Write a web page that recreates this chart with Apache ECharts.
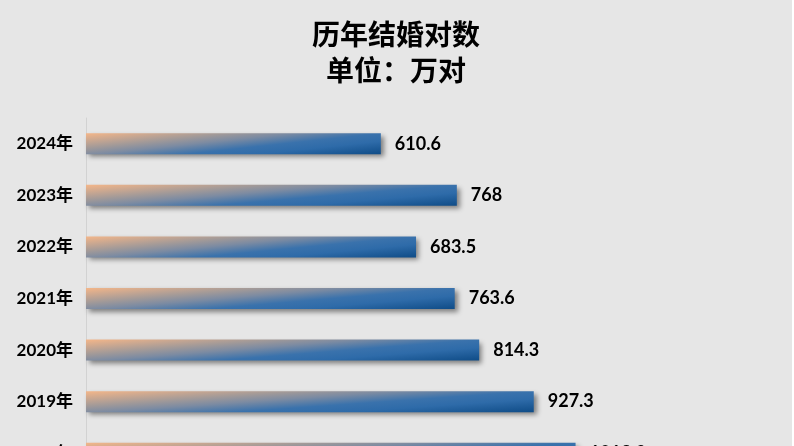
<!DOCTYPE html>
<html>
<head>
<meta charset="utf-8">
<script src="https://cdn.jsdelivr.net/npm/echarts@6/dist/echarts.min.js"></script>
<style>
html,body{margin:0;padding:0;background:#ffffff;overflow:hidden;}
#chart{width:792px;height:490px;background:#E6E6E6;}
</style>
</head>
<body>
<div id="chart"></div>
<script>
const categories = ['2024年','2023年','2022年','2021年','2020年','2019年','2018年'];
const marriages = [610.6, 768, 683.5, 763.6, 814.3, 927.3, 1013.9];
const titleText = '历年结婚对数\n单位：万对';

const axisMax = 1400;
const gridWidth = 676;
const barH = 21;

function barGradient(v) {
  const w = v / axisMax * gridWidth;
  const a = 0.6, b = 0.4;
  const g2 = (a / w) * (a / w) + (b / barH) * (b / barH);
  const x2 = a / (w * w * g2);
  const y2 = b / (barH * barH * g2);
  return new echarts.graphic.LinearGradient(0, 0, x2, y2, [
    { offset: 0, color: '#F4B689' },
    { offset: 0.28, color: '#A39A98' },
    { offset: 0.42, color: '#7C8BA2' },
    { offset: 0.6, color: '#3A72AC' },
    { offset: 0.75, color: '#2E6BA9' },
    { offset: 1, color: '#0F4C87' }
  ]);
}

const chart = echarts.init(document.getElementById('chart'));
chart.setOption({
  backgroundColor: '#E6E6E6',
  animation: false,
  title: {
    text: titleText,
    left: 'center',
    top: 11,
    textStyle: {
      fontFamily: '"Noto Sans CJK SC", sans-serif',
      fontWeight: 'bold',
      fontSize: 28,
      lineHeight: 36,
      color: '#000000'
    }
  },
  grid: { left: 86, top: 118, width: gridWidth, height: 361, containLabel: false, outerBoundsMode: 'none' },
  xAxis: { type: 'value', min: 0, max: axisMax, show: false },
  yAxis: {
    type: 'category',
    data: categories,
    inverse: true,
    axisLine: { show: true, lineStyle: { color: '#D2D2D2', width: 1 } },
    axisTick: { show: false },
    splitLine: { show: false },
    axisLabel: {
      margin: 13,
      color: '#000000',
      fontFamily: 'Lato, "Noto Sans CJK SC", sans-serif',
      fontWeight: 'bold',
      fontSize: 17
    }
  },
  series: [{
    type: 'bar',
    barWidth: barH,
    data: marriages.map(v => ({
      value: v,
      itemStyle: { color: barGradient(v) }
    })),
    itemStyle: {
      shadowColor: 'rgba(0,0,0,0.45)',
      shadowBlur: 5,
      shadowOffsetX: 3,
      shadowOffsetY: 3
    },
    label: {
      show: true,
      position: 'right',
      distance: 14,
      color: '#000000',
      fontFamily: 'Lato, sans-serif',
      fontWeight: 'bold',
      fontSize: 18
    }
  }]
});
</script>
</body>
</html>
